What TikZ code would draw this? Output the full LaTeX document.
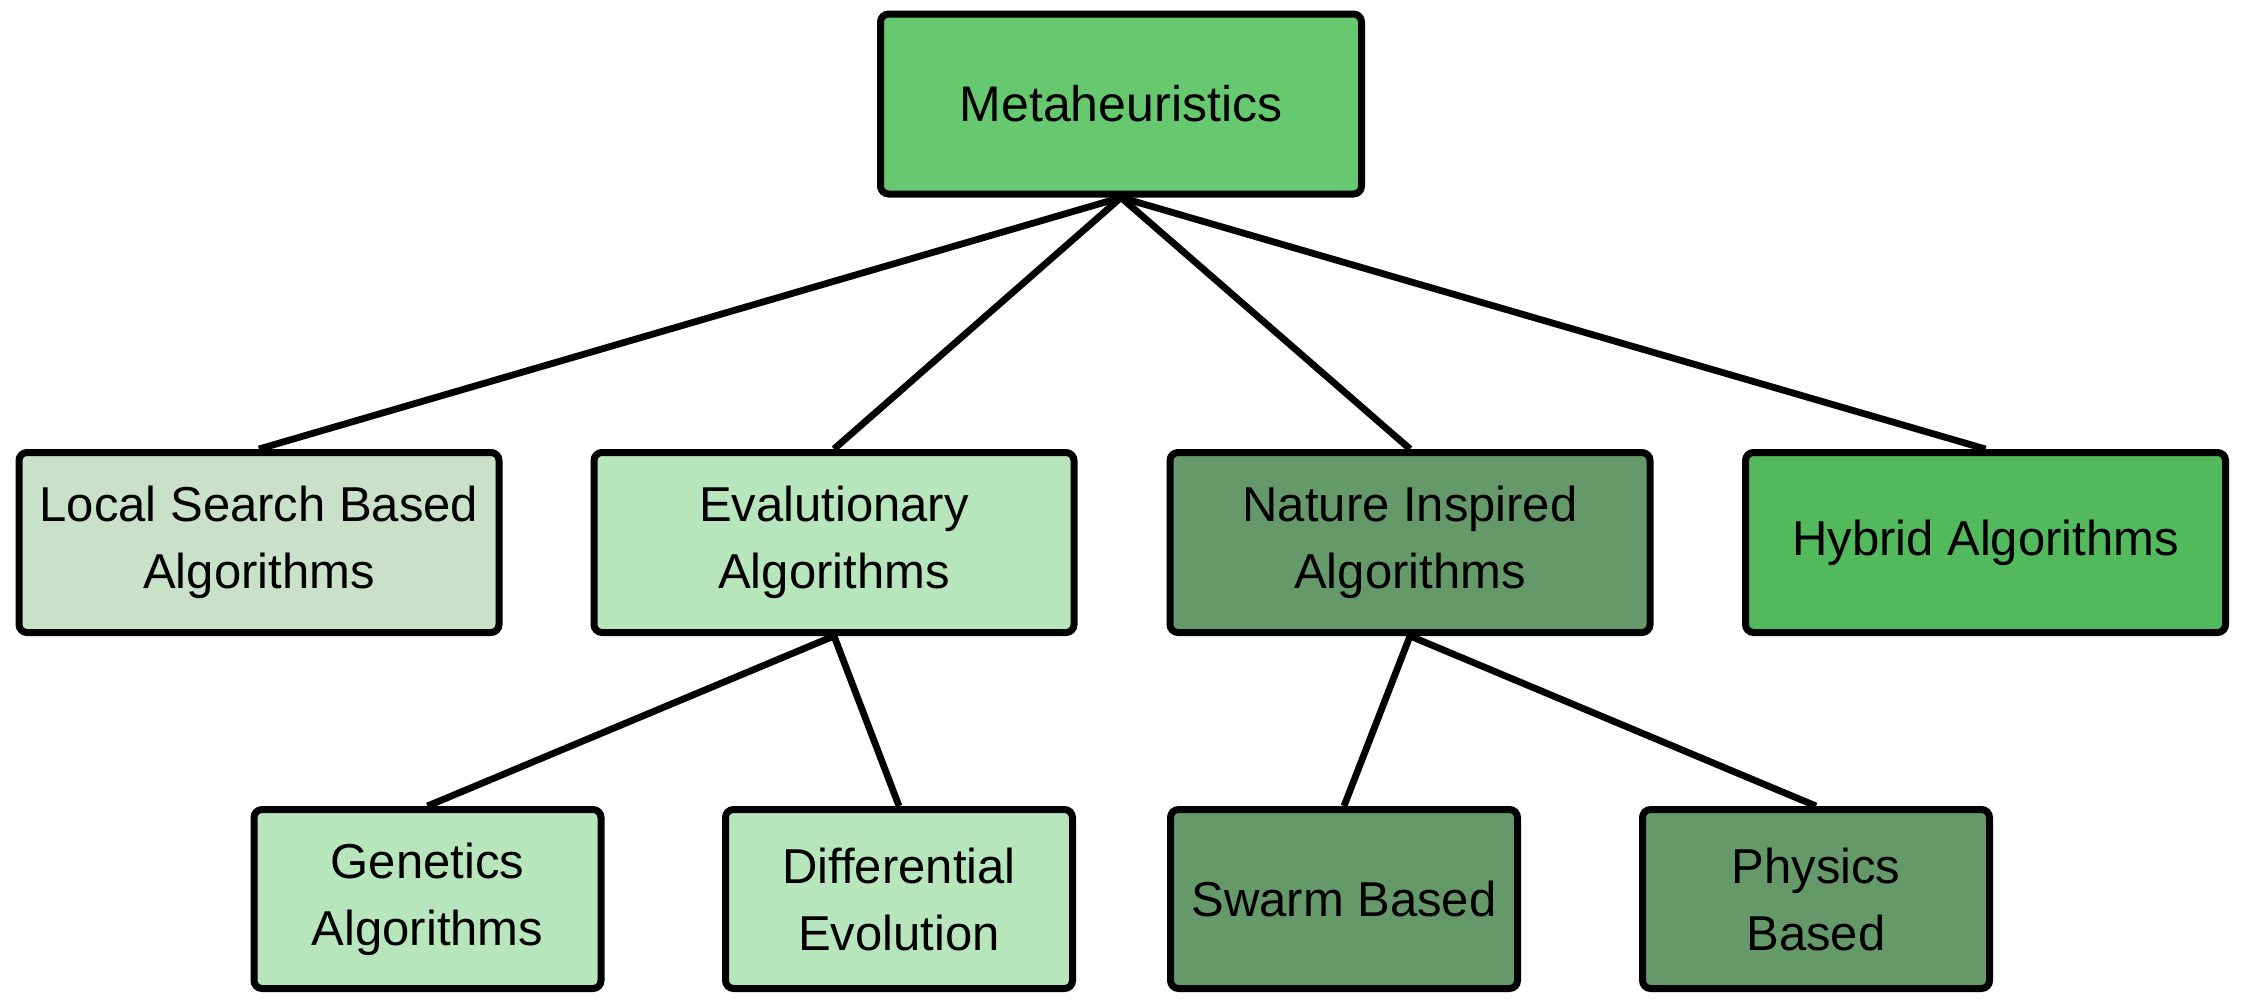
\documentclass[tikz,border=0pt]{standalone}
\usepackage{fontspec}
\setmainfont{Liberation Sans}
\definecolor{cTop}{HTML}{66C970}
\definecolor{cLocal}{HTML}{C9E0C9}
\definecolor{cEvo}{HTML}{B8E6BC}
\definecolor{cNat}{HTML}{66996A}
\definecolor{cHyb}{HTML}{52B95C}
\begin{document}
\begin{tikzpicture}[x=0.5pt,y=-0.5pt,
  box/.style={draw=black, line width=3.5pt, rounded corners=4pt, align=center,
    font=\fontsize{24.5}{33.5}\selectfont, inner sep=0pt},
  wide/.style={box, minimum width=240pt, minimum height=90pt},
  narrow/.style={box, minimum width=173.5pt, minimum height=89.5pt},
  link/.style={draw=black, line width=3.4pt}]
\useasboundingbox (0,0) rectangle (2246,1002);
\fill[white] (0,0) rectangle (2246,1002);
\node[wide, fill=cTop, minimum width=240.5pt] (meta) at (1121,104) {\fontsize{25}{33.5}\selectfont Metaheuristics};
\node[wide, fill=cLocal] (local) at (259,542.5) {Local Search Based\\Algorithms};
\node[wide, fill=cEvo] (evo) at (834,542.5) {Evalutionary\\Algorithms};
\node[wide, fill=cNat] (nat) at (1410,542.5) {Nature Inspired\\Algorithms};
\node[wide, fill=cHyb] (hyb) at (1985.5,542.5) {Hybrid Algorithms};
\node[narrow, fill=cEvo] (gen) at (427.5,899) {Genetics\\Algorithms};
\node[narrow, fill=cEvo] (dif) at (899,899) {Differential\\Evolution};
\node[narrow, fill=cNat] (swarm) at (1344,899) {Swarm Based};
\node[narrow, fill=cNat] (phys) at (1816,899) {Physics\\Based};
\draw[link] (meta.south) -- (local.north);
\draw[link] (meta.south) -- (evo.north);
\draw[link] (meta.south) -- (nat.north);
\draw[link] (meta.south) -- (hyb.north);
\draw[link] (evo.south) -- (gen.north);
\draw[link] (evo.south) -- (dif.north);
\draw[link] (nat.south) -- (swarm.north);
\draw[link] (nat.south) -- (phys.north);
\end{tikzpicture}
\end{document}
